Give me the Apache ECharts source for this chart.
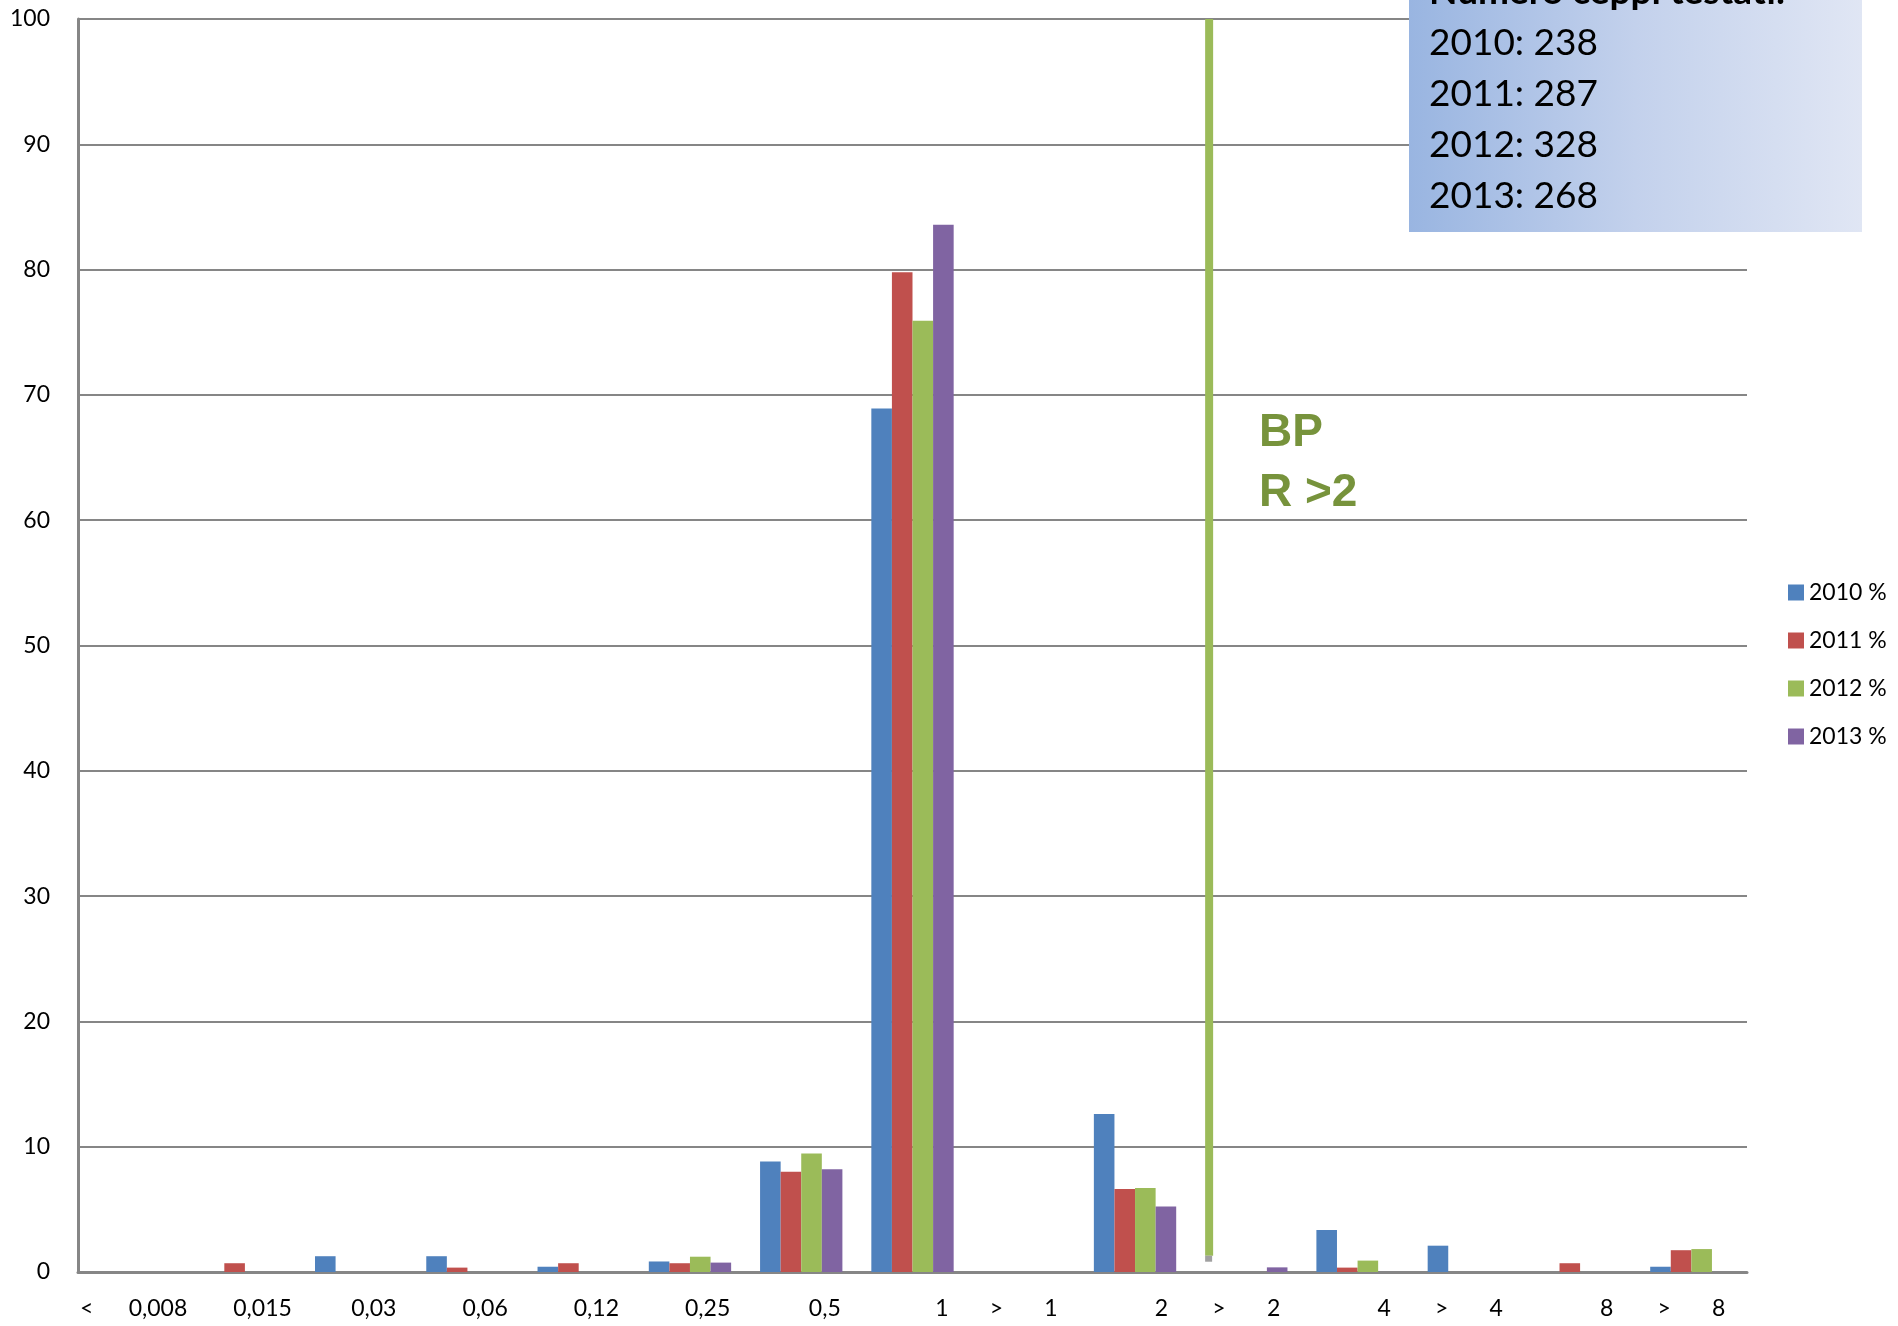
<!DOCTYPE html>
<html>
<head>
<meta charset="utf-8">
<script src="https://cdn.jsdelivr.net/npm/echarts@6/dist/echarts.min.js"></script>
<style>
html,body{margin:0;padding:0;background:#fff;}
#chart{width:1898px;height:1326px;}
</style>
</head>
<body>
<div id="chart"></div>
<script>
// Categories (MIC classes) – labels as they appear, with their padding spaces
const categories = [
  '<      0,008',
  '      0,015',
  '      0,03',
  '      0,06',
  '      0,12',
  '      0,25',
  '        0,5',
  '          1',
  '>       1',
  '         2',
  '>       2',
  '         4',
  '>       4',
  '         8',
  '>       8'
];
const seriesNames = ['2010 %', '2011 %', '2012 %', '2013 %'];
const pct2010 = [0, 0, 1.26, 1.26, 0.42, 0.84, 8.82, 68.91, 0, 12.61, 0, 3.36, 2.1, 0, 0.42];
const pct2011 = [0, 0.7, 0, 0.35, 0.7, 0.7, 8.01, 79.79, 0, 6.62, 0, 0.35, 0, 0.7, 1.74];
const pct2012 = [0, 0, 0, 0, 0, 1.22, 9.45, 75.91, 0, 6.71, 0, 0.91, 0, 0, 1.83];
const pct2013 = [0, 0, 0, 0, 0, 0.75, 8.21, 83.58, 0, 5.22, 0.37, 0, 0, 0, 0];
const yTicks = [0, 10, 20, 30, 40, 50, 60, 70, 80, 90, 100];
// Breakpoint line: [category index, from %, to %]
const bpLine = [[10, 1.3, 100]];
const bpText = ['BP', 'R >2'];
const boxTitle = 'Numero ceppi testati:';
const boxLines = ['2010: 238', '2011: 287', '2012: 328', '2013: 268'];

const colors = ['#4f81bd', '#c0504d', '#9bbb59', '#8064a2'];
const allData = [pct2010, pct2011, pct2012, pct2013];
const CAL = 'Lato, "Open Sans", sans-serif';

const chart = echarts.init(document.getElementById('chart'));

const barSeries = seriesNames.map((n, i) => ({
  name: n,
  type: 'bar',
  data: allData[i],
  barGap: '0%',
  barCategoryGap: '26%',
  itemStyle: { color: colors[i] },
  z: 3
}));

const graphics = [
  {
    type: 'rect', z: 100,
    shape: { x: 1409, y: 0, width: 453, height: 232 },
    style: {
      fill: new echarts.graphic.LinearGradient(0, 0, 1, 0, [
        { offset: 0, color: '#99b5e1' },
        { offset: 0.5, color: '#c3d1ec' },
        { offset: 1, color: '#e0e6f4' }
      ])
    }
  },
  {
    type: 'text', z: 101, x: 1429, y: -8,
    style: { text: boxTitle, font: 'bold 37px ' + CAL, fill: '#000', verticalAlign: 'middle' }
  }
];
boxLines.forEach((t, i) => {
  graphics.push({
    type: 'text', z: 101, x: 1429, y: 43 + i * 51,
    style: { text: t, font: '37px ' + CAL, fill: '#000', verticalAlign: 'middle' }
  });
});
bpText.forEach((t, i) => {
  graphics.push({
    type: 'text', z: 101, x: 1259, y: 433 + i * 60,
    style: { text: t, font: 'bold 46px "Liberation Sans", Arial, sans-serif', fill: '#77933c', verticalAlign: 'middle' }
  });
});

const option = {
  backgroundColor: '#ffffff',
  animation: false,
  color: colors,
  grid: { left: 78, right: 151, top: 19, bottom: 54, containLabel: false },
  legend: {
    data: seriesNames,
    orient: 'vertical',
    left: 1783,
    top: 576,
    itemWidth: 16,
    itemHeight: 16,
    itemGap: 25,
    icon: 'rect',
    textStyle: { fontFamily: CAL, fontSize: 23, color: '#000', padding: [0, 0, 0, 0] }
  },
  xAxis: {
    type: 'category',
    data: categories,
    axisLine: { lineStyle: { color: '#868686', width: 3 } },
    axisTick: { show: false },
    axisLabel: {
      interval: 0,
      margin: 25,
      fontFamily: CAL,
      fontSize: 23,
      color: '#000'
    },
    splitLine: { show: false }
  },
  yAxis: {
    type: 'value',
    min: yTicks[0],
    max: yTicks[yTicks.length - 1],
    interval: 10,
    axisLine: { show: true, lineStyle: { color: '#868686', width: 3 } },
    axisTick: { show: false },
    axisLabel: { margin: 28, fontFamily: CAL, fontSize: 23, color: '#000' },
    splitLine: { lineStyle: { color: '#868686', width: 2 } }
  },
  series: barSeries.concat([{
    name: 'BP',
    type: 'custom',
    data: bpLine,
    encode: { x: 0, y: [1, 2] },
    z: 4,
    renderItem: function (params, api) {
      const bottom = api.coord([api.value(0), api.value(1)]);
      const top = api.coord([api.value(0), api.value(2)]);
      const band = api.size([1, 0])[0];
      const x = bottom[0] - band / 2 + band * 0.13;
      return {
        type: 'group',
        children: [
          { type: 'rect', shape: { x: x, y: top[1], width: 8, height: bottom[1] - top[1] }, style: { fill: '#9bbb59' } },
          { type: 'rect', shape: { x: x, y: bottom[1], width: 7, height: 6 }, style: { fill: '#a0a0a0' } }
        ]
      };
    }
  }]),
  graphic: graphics
};
chart.setOption(option);
</script>
</body>
</html>
